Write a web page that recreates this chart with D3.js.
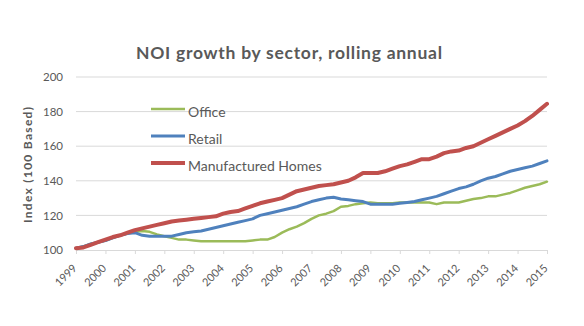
<!DOCTYPE html>
<html>
<head>
<meta charset="utf-8">
<script src="https://cdn.jsdelivr.net/npm/d3@7"></script>
<style>
  body { margin: 0; background: #fff; }
  text { font-family: Lato, "Open Sans", sans-serif; fill: #595959; }
</style>
</head>
<body>
<svg id="chart" width="584" height="326"></svg>
<script>
// quarterly index values, 1999 Q1 .. 2015 Q1
const office = [
  101, 102, 103.5, 104.5,
  105.5, 107, 108.5, 109.5,
  110.5, 111, 110.5, 109,
  108, 107, 106, 106,
  105.5, 105, 105, 105,
  105, 105, 105, 105,
  105.5, 106, 106, 107.5,
  110, 112, 113.5, 115.5,
  118, 120, 121, 122.5,
  125, 125.5, 126.5, 127,
  127.5, 127, 127, 127,
  127.5, 127.5, 127.5, 127.5,
  127.5, 126.5, 127.5, 127.5,
  127.5, 128.5, 129.5, 130,
  131, 131, 132, 133,
  134.5, 136, 137, 138,
  139.5
];
const retail = [
  101, 102, 103.5, 104.5,
  105.5, 107, 108.5, 109.5,
  110, 108.5, 108, 108,
  108, 108, 109, 110,
  110.5, 111, 112, 113,
  114, 115, 116, 117,
  118, 120, 121, 122,
  123, 124, 125, 126.5,
  128, 129, 130, 130.5,
  129.5, 129, 128.5, 128,
  126.5, 126.5, 126.5, 126.5,
  127, 127.5, 128, 129,
  130, 131, 132.5, 134,
  135.5, 136.5, 138, 140,
  141.5, 142.5, 144, 145.5,
  146.5, 147.5, 148.5, 150,
  151.5
];
const homes = [
  101, 101.5, 103, 104.5,
  106, 107.5, 108.5, 110,
  111.5, 112.5, 113.5, 114.5,
  115.5, 116.5, 117, 117.5,
  118, 118.5, 119, 119.5,
  121, 122, 122.5, 124,
  125.5, 127, 128, 129,
  130, 132, 134, 135,
  136, 137, 137.5, 138,
  139, 140, 142, 144.5,
  144.5, 144.5, 145.5, 147,
  148.5, 149.5, 151, 152.5,
  152.5, 154, 156, 157,
  157.5, 159, 160, 162,
  164, 166, 168, 170,
  172, 174.5, 177.5, 181,
  184.5
];
const years = d3.range(1999, 2016);
const yTicks = [100, 120, 140, 160, 180, 200];

const series = [
  { name: "Office", values: office, color: "#9bbb59", width: 2.5 },
  { name: "Retail", values: retail, color: "#4f81bd", width: 3 },
  { name: "Manufactured Homes", values: homes, color: "#c0504d", width: 4 }
];

const svg = d3.select("#chart");
const x = d3.scaleLinear().domain([1999, 2015]).range([76, 547]);
const y = d3.scaleLinear().domain([100, 200]).range([250, 77]);

svg.append("text")
  .attr("x", 136).attr("y", 59)
  .attr("textLength", 306).attr("lengthAdjust", "spacing")
  .style("font-size", "17.5px").style("font-weight", "bold")
  .text("NOI growth by sector, rolling annual");

// gridlines
svg.append("g")
  .selectAll("line")
  .data(yTicks.slice(1))
  .join("line")
  .attr("x1", x.range()[0]).attr("x2", x.range()[1])
  .attr("y1", d => y(d)).attr("y2", d => y(d))
  .attr("stroke", "#d9d9d9").attr("stroke-width", 1);

const yAxis = svg.append("g")
  .attr("transform", `translate(${x.range()[0]},0)`)
  .call(d3.axisLeft(y).tickValues(yTicks).tickSize(0).tickPadding(13));
yAxis.select(".domain").remove();
yAxis.selectAll("text").style("font-size", "11.5px").attr("fill", "#595959");

const xAxis = svg.append("g")
  .attr("transform", `translate(0,${y(100)})`)
  .call(d3.axisBottom(x).tickValues(years).tickFormat(d3.format("d")).tickSize(4).tickSizeOuter(0));
xAxis.select(".domain").attr("stroke", "#d9d9d9");
xAxis.selectAll(".tick line").attr("stroke", "#d9d9d9");
xAxis.selectAll("text")
  .style("font-size", "11px").attr("fill", "#595959")
  .attr("text-anchor", "end")
  .attr("x", 0).attr("y", 0).attr("dy", 0)
  .attr("transform", "translate(1,19) rotate(-45)");

svg.append("text")
  .attr("transform", "translate(32,165) rotate(-90)")
  .attr("x", -58)
  .attr("textLength", 116).attr("lengthAdjust", "spacing")
  .style("font-size", "12px").style("font-weight", "bold")
  .text("Index (100 Based)");

const line = d3.line()
  .x((d, i) => x(1999 + i / 4))
  .y(d => y(d));

svg.append("g")
  .selectAll("path")
  .data(series)
  .join("path")
  .attr("d", d => line(d.values))
  .attr("fill", "none")
  .attr("stroke", d => d.color)
  .attr("stroke-width", d => d.width)
  .attr("stroke-linejoin", "round")
  .attr("stroke-linecap", "round");

// legend
const legend = svg.append("g")
  .selectAll("g")
  .data(series)
  .join("g")
  .attr("transform", (d, i) => `translate(151,${109 + i * 27})`);
legend.append("line")
  .attr("x1", 0).attr("x2", 34)
  .attr("stroke", d => d.color)
  .attr("stroke-width", d => d.width);
legend.append("text")
  .attr("x", 37).attr("y", 8)
  .style("font-size", "14px")
  .text(d => d.name);
</script>
</body>
</html>
